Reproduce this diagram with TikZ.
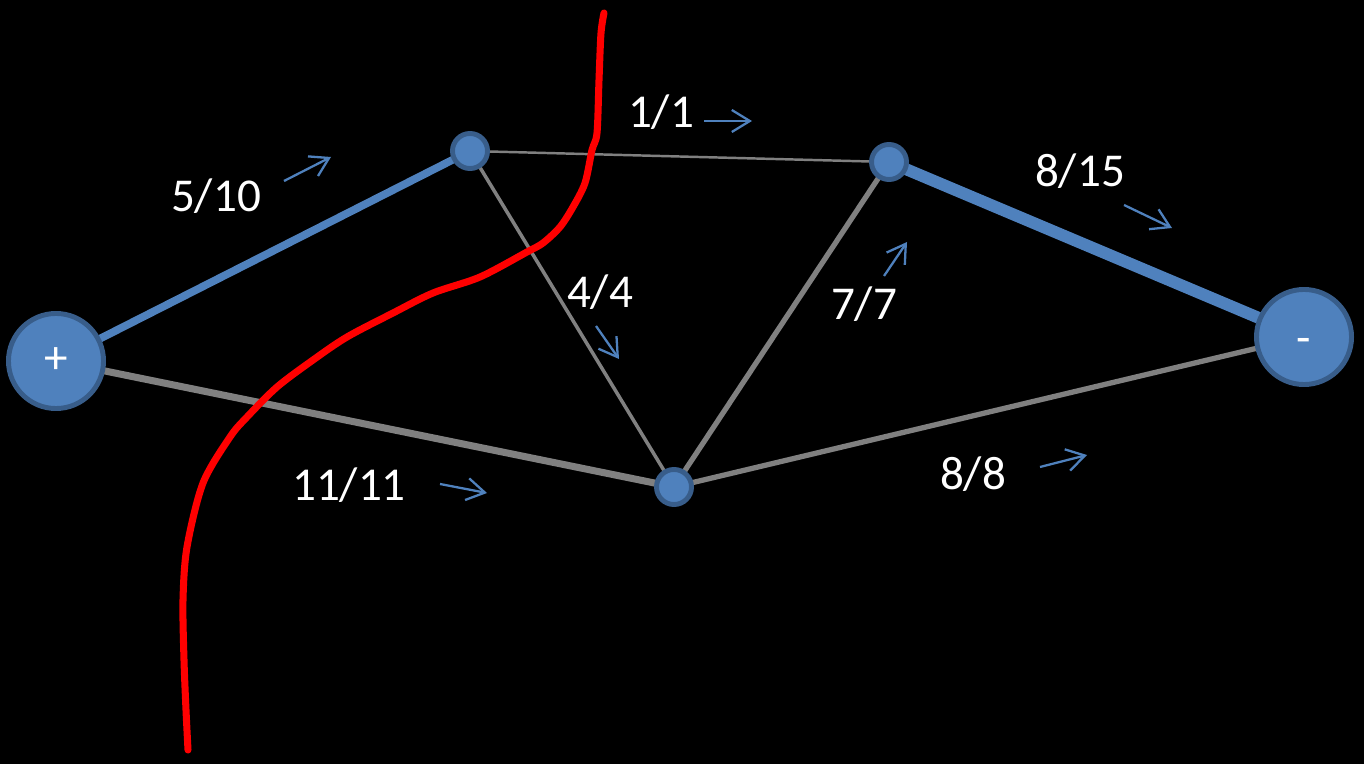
\documentclass[tikz,border=0pt]{standalone}
\usepackage{fontspec}
\setmainfont{Carlito}
\usetikzlibrary{arrows.meta,backgrounds}

\definecolor{poleblue}{HTML}{4F81BD}
\definecolor{polerim}{HTML}{385D8A}
\definecolor{wiregray}{HTML}{808080}

\begin{document}
\begin{tikzpicture}[
    x=0.01cm, y=-0.01cm,
    every node/.style={font=\fontsize{13.4}{16}\selectfont, text=white},
    pole/.style={circle, draw=polerim, fill=poleblue, line width=1.4pt,
                 minimum size=0.95cm, inner sep=0pt},
    junction/.style={pole, minimum size=0.35cm},
    flow/.style={anchor=base},
    dir/.style={-{Straight Barb[length=1.8mm, width=2.2mm]}, draw=poleblue,
                line width=0.65pt},
    wire/.style={draw=wiregray},
    cut/.style={draw=red, line width=2pt, line join=round, line cap=round},
  ]
  % poles and junctions
  \node[pole] (plus) at (56,361) {+};
  \node[pole] (minus) at (1304,337) {\smash{\raisebox{-0.34em}{-}}};
  \node[junction] (top) at (470,151) {};
  \node[junction] (right) at (889,162) {};
  \node[junction] (bot) at (674,487) {};

  % edges behind the circles
  \begin{pgfonlayer}{background}
    \fill[black] (0,0) rectangle (1364,764);
    \draw[draw=poleblue, line width=2.2pt] (plus.center) -- (top.center);
    \draw[draw=poleblue, line width=3.4pt] (right.center) -- (minus.center);
    \draw[wire, line width=2pt] (plus.center) -- (bot.center);
    \draw[wire, line width=0.7pt] (top.center) -- (right.center);
    \draw[wire, line width=1pt] (top.center) -- (bot.center);
    \draw[wire, line width=1.5pt] (right.center) -- (bot.center);
    \draw[wire, line width=1.5pt] (bot.center) -- (minus.center);
  \end{pgfonlayer}

  % flow / capacity labels
  \node[flow] (f510) at (216,212) {5/10};
  \node[flow] (f11) at (661,128) {1/1};
  \node[flow] (f815) at (1080,187) {8/15};
  \node[flow] (f44) at (600,308) {4/4};
  \node[flow] (f77) at (864,320) {7/7};
  \node[flow] (f1111) at (349,500) {11/11};
  \node[flow] (f88) at (973,489) {8/8};

  % direction arrows
  \coordinate (d510a) at (284,181); \coordinate (d510b) at (331,157);
  \coordinate (d11a) at (704,121); \coordinate (d11b) at (752,121);
  \coordinate (d815a) at (1124,205); \coordinate (d815b) at (1172,228);
  \coordinate (d44a) at (596,326); \coordinate (d44b) at (619,359);
  \coordinate (d77a) at (884,276); \coordinate (d77b) at (907,242);
  \coordinate (d1111a) at (440,484); \coordinate (d1111b) at (487,493);
  \coordinate (d88a) at (1040,467); \coordinate (d88b) at (1087,455);
  \draw[dir] (d510a) -- (d510b);
  \draw[dir] (d11a) -- (d11b);
  \draw[dir] (d815a) -- (d815b);
  \draw[dir] (d44a) -- (d44b);
  \draw[dir] (d77a) -- (d77b);
  \draw[dir] (d1111a) -- (d1111b);
  \draw[dir] (d88a) -- (d88b);

  % the cut
  \draw[cut] plot[smooth, tension=0.5] coordinates {
    (604,13) (601,33) (599,80) (597,133) (592,150) (585,183) (573,207)
    (560,227) (543,243) (527,252) (480,277) (433,293) (393,313) (347,337)
    (313,360) (277,387) (247,417) (230,437) (203,483) (187,547) (183,600)
    (184,660) (186,710) (188,750)};
\end{tikzpicture}
\end{document}
